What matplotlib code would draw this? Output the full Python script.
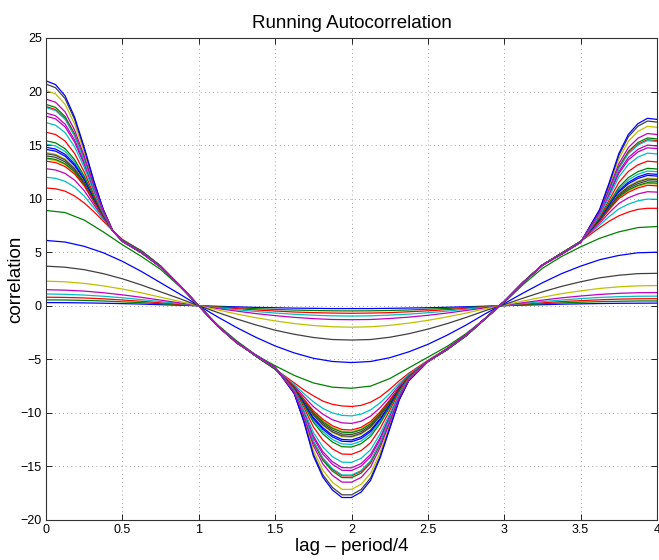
import matplotlib
matplotlib.use("Agg")
from matplotlib import pyplot as plt

# lag axis (in units of period/4); the sharp curves are read on a finer grid
lag_coarse = [0.0, 0.125, 0.25, 0.375, 0.5, 0.625, 0.75, 0.875,
              1.0, 1.125, 1.25, 1.375, 1.5, 1.625, 1.75, 1.875,
              2.0, 2.125, 2.25, 2.375, 2.5, 2.625, 2.75, 2.875,
              3.0, 3.125, 3.25, 3.375, 3.5, 3.625, 3.75, 3.875, 4.0]
lag_fine = [0.0, 0.0625, 0.125, 0.1875, 0.25, 0.3125, 0.375, 0.4375, 0.5,
            0.625, 0.75, 0.875, 1.0, 1.125, 1.25, 1.375, 1.5,
            1.625, 1.6875, 1.75, 1.8125, 1.875, 1.9375, 2.0, 2.0625, 2.125,
            2.1875, 2.25, 2.3125, 2.375,
            2.5, 2.625, 2.75, 2.875, 3.0, 3.125, 3.25, 3.375, 3.5,
            3.625, 3.6875, 3.75, 3.8125, 3.875, 3.9375, 4.0]

# early windows: small, smooth curves (coarse grid)
c00 = [0.3, 0.29, 0.27, 0.24, 0.2, 0.16, 0.1, 0.05, 0, -0.05, -0.1, -0.15, -0.18, -0.22, -0.24, -0.26, -0.26,
       -0.26, -0.24, -0.21, -0.18, -0.14, -0.09, -0.04, 0.01, 0.06, 0.1, 0.15, 0.18, 0.21, 0.23, 0.24, 0.25]
c01 = [0.55, 0.54, 0.5, 0.45, 0.37, 0.29, 0.19, 0.1, 0, -0.09, -0.18, -0.27, -0.34, -0.4, -0.44, -0.47, -0.48,
       -0.47, -0.44, -0.39, -0.32, -0.25, -0.16, -0.07, 0.02, 0.11, 0.19, 0.27, 0.33, 0.39, 0.42, 0.45, 0.45]
c02 = [0.8, 0.78, 0.73, 0.65, 0.54, 0.42, 0.28, 0.14, 0, -0.14, -0.27, -0.39, -0.49, -0.58, -0.64, -0.68, -0.7,
       -0.68, -0.64, -0.56, -0.47, -0.36, -0.24, -0.1, 0.02, 0.16, 0.28, 0.39, 0.48, 0.56, 0.62, 0.65, 0.66]
c03 = [1.1, 1.07, 1.0, 0.89, 0.75, 0.58, 0.39, 0.2, 0, -0.19, -0.37, -0.53, -0.68, -0.79, -0.88, -0.94, -0.96,
       -0.94, -0.87, -0.78, -0.65, -0.5, -0.32, -0.14, 0.03, 0.21, 0.39, 0.54, 0.67, 0.78, 0.85, 0.89, 0.9]
c04 = [1.5, 1.46, 1.37, 1.22, 1.02, 0.79, 0.53, 0.27, 0, -0.26, -0.5, -0.73, -0.92, -1.08, -1.2, -1.28, -1.3,
       -1.28, -1.19, -1.06, -0.89, -0.68, -0.44, -0.19, 0.05, 0.29, 0.53, 0.74, 0.91, 1.06, 1.16, 1.22, 1.23]
c05 = [2.3, 2.24, 2.09, 1.86, 1.56, 1.21, 0.8, 0.41, 0, -0.39, -0.77, -1.12, -1.41, -1.66, -1.84, -1.96, -2.0,
       -1.96, -1.83, -1.62, -1.36, -1.04, -0.68, -0.29, 0.07, 0.45, 0.8, 1.13, 1.39, 1.62, 1.77, 1.86, 1.89]
c06 = [3.7, 3.6, 3.37, 3.0, 2.52, 1.94, 1.3, 0.67, 0, -0.63, -1.24, -1.79, -2.28, -2.66, -2.96, -3.15, -3.2,
       -3.15, -2.94, -2.61, -2.18, -1.67, -1.09, -0.46, 0.11, 0.72, 1.3, 1.81, 2.24, 2.61, 2.85, 3.0, 3.03]
c07 = [6.1, 5.95, 5.55, 4.95, 4.15, 3.2, 2.15, 1.1, 0, -1.05, -2.05, -2.95, -3.75, -4.4, -4.9, -5.2, -5.3,
       -5.2, -4.85, -4.3, -3.6, -2.75, -1.8, -0.75, 0.2, 1.2, 2.15, 3.0, 3.7, 4.3, 4.7, 4.95, 5.0]
c08 = [8.9, 8.7, 8.0, 6.9, 5.7, 4.6, 3.4, 1.8, 0, -1.8, -3.3, -4.6, -5.6, -6.5, -7.2, -7.6, -7.7,
       -7.5, -6.8, -5.8, -4.8, -3.8, -2.6, -1.2, 0.3, 2.0, 3.5, 4.6, 5.5, 6.3, 6.9, 7.3, 7.4]

# later windows: sharp curves (fine grid)
c09 = [11.0, 10.92, 10.7, 10.25, 9.6, 8.8, 7.9, 7.0, 6.2,
       5.1, 3.7, 1.9, 0, -1.9, -3.4, -4.7, -5.9,
       -7.2, -7.85, -8.4, -8.9, -9.2, -9.35, -9.4, -9.3, -9.0, -8.5, -7.8, -7.0, -6.3,
       -5.1, -4.0, -2.7, -1.2, 0.4, 2.2, 3.8, 4.9, 6.0,
       7.3, 7.9, 8.4, 8.75, 9.0, 9.1, 9.1]
c10 = [12.0, 11.9, 11.62, 11.07, 10.24, 9.16, 8.06, 7.0, 6.16,
       5.1, 3.7, 1.9, 0, -1.9, -3.4, -4.7, -5.9,
       -7.36, -8.19, -8.96, -9.58, -10.0, -10.23, -10.28, -10.12, -9.72, -9.06, -8.2, -7.24, -6.42,
       -5.14, -4.04, -2.74, -1.2, 0.4, 2.2, 3.8, 4.9, 6.0,
       7.54, 8.34, 9.04, 9.49, 9.8, 9.96, 9.94]
c11 = [12.8, 12.68, 12.36, 11.73, 10.75, 9.45, 8.19, 7.0, 6.13,
       5.1, 3.7, 1.9, 0, -1.9, -3.4, -4.7, -5.9,
       -7.49, -8.46, -9.41, -10.12, -10.64, -10.93, -10.98, -10.78, -10.3, -9.51, -8.52, -7.43, -6.52,
       -5.17, -4.07, -2.77, -1.2, 0.4, 2.2, 3.8, 4.9, 6.0,
       7.73, 8.69, 9.55, 10.08, 10.44, 10.65, 10.61]
c12 = [13.7, 13.57, 13.18, 12.44, 11.3, 9.75, 8.32, 7.0, 6.1,
       5.1, 3.7, 1.9, 0, -1.9, -3.4, -4.7, -5.9,
       -7.62, -8.76, -9.91, -10.75, -11.36, -11.72, -11.77, -11.51, -10.95, -10.02, -8.87, -7.63, -6.61,
       -5.2, -4.1, -2.8, -1.2, 0.4, 2.2, 3.8, 4.9, 6.0,
       7.93, 9.07, 10.11, 10.75, 11.16, 11.42, 11.37]
c13 = [14.0, 13.86, 13.44, 12.66, 11.44, 9.83, 8.35, 7.0, 6.1,
       5.1, 3.7, 1.9, 0, -1.9, -3.4, -4.7, -5.9,
       -7.64, -8.84, -10.08, -10.96, -11.6, -11.98, -12.02, -11.76, -11.17, -10.19, -8.98, -7.68, -6.63,
       -5.2, -4.1, -2.8, -1.2, 0.4, 2.2, 3.8, 4.9, 6.0,
       7.97, 9.17, 10.28, 10.96, 11.4, 11.67, 11.62]
c14 = [14.6, 14.44, 13.97, 13.08, 11.73, 9.99, 8.4, 7.0, 6.1,
       5.1, 3.7, 1.9, 0, -1.9, -3.4, -4.7, -5.9,
       -7.69, -9.01, -10.42, -11.39, -12.08, -12.48, -12.53, -12.24, -11.61, -10.53, -9.2, -7.78, -6.66,
       -5.2, -4.1, -2.8, -1.2, 0.4, 2.2, 3.8, 4.9, 6.0,
       8.06, 9.37, 10.62, 11.39, 11.88, 12.17, 12.11]
c15 = [13.8, 13.66, 13.26, 12.51, 11.34, 9.78, 8.33, 7.0, 6.1,
       5.1, 3.7, 1.9, 0, -1.9, -3.4, -4.7, -5.9,
       -7.62, -8.78, -9.97, -10.82, -11.44, -11.8, -11.85, -11.59, -11.02, -10.07, -8.91, -7.65, -6.62,
       -5.2, -4.1, -2.8, -1.2, 0.4, 2.2, 3.8, 4.9, 6.0,
       7.94, 9.1, 10.17, 10.82, 11.24, 11.5, 11.45]
c16 = [13.5, 13.37, 13.0, 12.3, 11.2, 9.7, 8.3, 7.0, 6.1,
       5.1, 3.7, 1.9, 0, -1.9, -3.4, -4.7, -5.9,
       -7.6, -8.7, -9.8, -10.6, -11.2, -11.55, -11.6, -11.35, -10.8, -9.9, -8.8, -7.6, -6.6,
       -5.2, -4.1, -2.8, -1.2, 0.4, 2.2, 3.8, 4.9, 6.0,
       7.9, 9.0, 10.0, 10.6, 11.0, 11.25, 11.2]
c17 = [15.1, 14.92, 14.41, 13.43, 11.97, 10.13, 8.45, 7.0, 6.08,
       5.06, 3.68, 1.9, 0, -1.9, -3.42, -4.68, -5.86,
       -7.73, -9.15, -10.69, -11.75, -12.48, -12.9, -12.94, -12.64, -11.97, -10.82, -9.38, -7.86, -6.69,
       -5.2, -4.08, -2.78, -1.2, 0.4, 2.2, 3.8, 4.88, 5.98,
       8.13, 9.53, 10.89, 11.75, 12.28, 12.58, 12.52]
c18 = [17.7, 17.45, 16.7, 15.27, 13.22, 10.82, 8.69, 7.0, 6.05,
       5.0, 3.65, 1.9, 0, -1.9, -3.45, -4.65, -5.8,
       -7.94, -9.88, -12.15, -13.62, -14.56, -15.11, -15.13, -14.74, -13.88, -12.31, -10.31, -8.27, -6.82,
       -5.2, -4.05, -2.75, -1.2, 0.4, 2.2, 3.8, 4.85, 5.95,
       8.52, 10.4, 12.35, 13.62, 14.36, 14.75, 14.67]
c19 = [14.3, 14.15, 13.71, 12.87, 11.59, 9.91, 8.37, 7.0, 6.1,
       5.1, 3.7, 1.9, 0, -1.9, -3.4, -4.7, -5.9,
       -7.66, -8.92, -10.25, -11.18, -11.84, -12.23, -12.27, -12.0, -11.39, -10.36, -9.09, -7.73, -6.64,
       -5.2, -4.1, -2.8, -1.2, 0.4, 2.2, 3.8, 4.9, 6.0,
       8.02, 9.27, 10.45, 11.18, 11.64, 11.92, 11.86]
c20 = [14.2, 14.05, 13.61, 12.79, 11.53, 9.89, 8.37, 7.0, 6.1,
       5.1, 3.7, 1.9, 0, -1.9, -3.4, -4.7, -5.9,
       -7.66, -8.9, -10.19, -11.1, -11.76, -12.14, -12.19, -11.91, -11.31, -10.3, -9.05, -7.71, -6.64,
       -5.2, -4.1, -2.8, -1.2, 0.4, 2.2, 3.8, 4.9, 6.0,
       8.0, 9.23, 10.39, 11.1, 11.56, 11.83, 11.78]
c21 = [14.8, 14.63, 14.14, 13.22, 11.82, 10.05, 8.42, 7.0, 6.08,
       5.06, 3.68, 1.9, 0, -1.9, -3.42, -4.68, -5.86,
       -7.7, -9.06, -10.53, -11.53, -12.24, -12.65, -12.69, -12.4, -11.75, -10.64, -9.27, -7.81, -6.67,
       -5.2, -4.08, -2.78, -1.2, 0.4, 2.2, 3.8, 4.88, 5.98,
       8.09, 9.43, 10.73, 11.53, 12.04, 12.33, 12.27]
c22 = [15.4, 15.21, 14.67, 13.64, 12.11, 10.21, 8.48, 7.0, 6.08,
       5.06, 3.68, 1.9, 0, -1.9, -3.42, -4.68, -5.86,
       -7.75, -9.23, -10.86, -11.97, -12.72, -13.16, -13.19, -12.88, -12.19, -10.99, -9.48, -7.9, -6.7,
       -5.2, -4.08, -2.78, -1.2, 0.4, 2.2, 3.8, 4.88, 5.98,
       8.18, 9.63, 11.06, 11.97, 12.52, 12.83, 12.77]
c23 = [16.2, 15.99, 15.38, 14.21, 12.5, 10.42, 8.55, 7.0, 6.05,
       5.0, 3.65, 1.9, 0, -1.9, -3.45, -4.65, -5.8,
       -7.82, -9.46, -11.31, -12.54, -13.36, -13.84, -13.87, -13.53, -12.78, -11.45, -9.77, -8.03, -6.74,
       -5.2, -4.05, -2.75, -1.2, 0.4, 2.2, 3.8, 4.85, 5.95,
       8.3, 9.9, 11.51, 12.54, 13.16, 13.5, 13.43]
c24 = [17.1, 16.86, 16.17, 14.84, 12.93, 10.66, 8.64, 7.0, 6.05,
       5.0, 3.65, 1.9, 0, -1.9, -3.45, -4.65, -5.8,
       -7.89, -9.71, -11.82, -13.19, -14.08, -14.6, -14.62, -14.25, -13.44, -11.96, -10.1, -8.18, -6.79,
       -5.2, -4.05, -2.75, -1.2, 0.4, 2.2, 3.8, 4.85, 5.95,
       8.43, 10.2, 12.02, 13.19, 13.88, 14.25, 14.18]
c25 = [18.0, 17.74, 16.96, 15.48, 13.36, 10.9, 8.72, 7.0, 6.02,
       4.95, 3.62, 1.9, 0, -1.9, -3.48, -4.62, -5.75,
       -7.96, -9.96, -12.32, -13.84, -14.8, -15.36, -15.38, -14.98, -14.1, -12.48, -10.42, -8.32, -6.84,
       -5.2, -4.02, -2.72, -1.2, 0.4, 2.2, 3.8, 4.82, 5.92,
       8.56, 10.5, 12.52, 13.84, 14.6, 15.0, 14.92]
c26 = [20.1, 19.78, 18.81, 16.96, 14.37, 11.46, 8.92, 7.0, 6.02,
       4.95, 3.62, 1.9, 0, -1.9, -3.48, -4.62, -5.75,
       -8.13, -10.55, -13.5, -15.35, -16.48, -17.14, -17.14, -16.67, -15.64, -13.68, -11.18, -8.66, -6.95,
       -5.2, -4.02, -2.72, -1.2, 0.4, 2.2, 3.8, 4.82, 5.92,
       8.87, 11.2, 13.7, 15.35, 16.28, 16.75, 16.66]
c27 = [20.7, 20.36, 19.34, 17.39, 14.66, 11.62, 8.97, 7.0, 6.02,
       4.95, 3.62, 1.9, 0, -1.9, -3.48, -4.62, -5.75,
       -8.18, -10.72, -13.83, -15.78, -16.96, -17.65, -17.65, -17.16, -16.08, -14.03, -11.39, -8.75, -6.98,
       -5.2, -4.02, -2.72, -1.2, 0.4, 2.2, 3.8, 4.82, 5.92,
       8.96, 11.4, 14.03, 15.78, 16.76, 17.25, 17.15]
c28 = [21.0, 20.65, 19.6, 17.6, 14.8, 11.7, 9.0, 7.0, 6.0,
       4.95, 3.62, 1.9, 0, -1.9, -3.48, -4.62, -5.75,
       -8.2, -10.8, -14.0, -16.0, -17.2, -17.9, -17.9, -17.4, -16.3, -14.2, -11.5, -8.8, -7.0,
       -5.2, -4.02, -2.72, -1.2, 0.4, 2.2, 3.8, 4.82, 5.92,
       9.0, 11.5, 14.2, 16.0, 17.0, 17.5, 17.4]
c29 = [18.8, 18.52, 17.67, 16.05, 13.75, 11.11, 8.79, 7.0, 6.02,
       4.95, 3.62, 1.9, 0, -1.9, -3.48, -4.62, -5.75,
       -8.02, -10.18, -12.77, -14.42, -15.44, -16.04, -16.05, -15.63, -14.69, -12.94, -10.71, -8.45, -6.88,
       -5.2, -4.02, -2.72, -1.2, 0.4, 2.2, 3.8, 4.82, 5.92,
       8.68, 10.77, 12.97, 14.42, 15.24, 15.67, 15.58]
c30 = [18.6, 18.32, 17.49, 15.9, 13.65, 11.06, 8.78, 7.0, 6.02,
       4.95, 3.62, 1.9, 0, -1.9, -3.48, -4.62, -5.75,
       -8.01, -10.13, -12.66, -14.27, -15.28, -15.87, -15.88, -15.46, -14.54, -12.82, -10.64, -8.42, -6.87,
       -5.2, -4.02, -2.72, -1.2, 0.4, 2.2, 3.8, 4.82, 5.92,
       8.65, 10.7, 12.86, 14.27, 15.08, 15.5, 15.42]
c31 = [18.5, 18.23, 17.4, 15.84, 13.6, 11.03, 8.77, 7.0, 6.02,
       4.95, 3.62, 1.9, 0, -1.9, -3.48, -4.62, -5.75,
       -8.0, -10.1, -12.6, -14.2, -15.2, -15.79, -15.8, -15.39, -14.47, -12.77, -10.6, -8.4, -6.87,
       -5.2, -4.02, -2.72, -1.2, 0.4, 2.2, 3.8, 4.82, 5.92,
       8.63, 10.67, 12.8, 14.2, 15.0, 15.42, 15.33]
c32 = [19.3, 19.0, 18.1, 16.4, 13.98, 11.25, 8.84, 7.0, 6.02,
       4.95, 3.62, 1.9, 0, -1.9, -3.48, -4.62, -5.75,
       -8.06, -10.32, -13.05, -14.77, -15.84, -16.46, -16.47, -16.03, -15.05, -13.22, -10.89, -8.53, -6.91,
       -5.2, -4.02, -2.72, -1.2, 0.4, 2.2, 3.8, 4.82, 5.92,
       8.75, 10.93, 13.25, 14.77, 15.64, 16.08, 15.99]

coarse_curves = [c00, c01, c02, c03, c04, c05, c06, c07, c08]
fine_curves = [c09, c10, c11, c12, c13, c14, c15, c16, c17, c18, c19, c20,
               c21, c22, c23, c24, c25, c26, c27, c28, c29, c30, c31, c32]

# MATLAB default colour order: b g r c m y k
line_colors = ["#0000ff", "#008000", "#ff0000", "#00bfbf", "#bf00bf", "#bfbf00", "#404040"]

x_ticks = [0, 0.5, 1, 1.5, 2, 2.5, 3, 3.5, 4]
x_tick_labels = ["0", "0.5", "1", "1.5", "2", "2.5", "3", "3.5", "4"]
y_ticks = [-20, -15, -10, -5, 0, 5, 10, 15, 20, 25]
y_tick_labels = ["\u221220", "\u221215", "\u221210", "\u22125", "0", "5", "10", "15", "20", "25"]

plt.rcParams["font.family"] = ["Liberation Sans", "DejaVu Sans"]

fig = plt.figure(figsize=(6.59, 5.6), dpi=100)
ax = fig.add_axes([46 / 659, 40 / 560, 611 / 659, 482 / 560])

n = 0
for curve in coarse_curves:
    ax.plot(lag_coarse, curve, color=line_colors[n % 7], linewidth=0.9)
    n += 1
for curve in fine_curves:
    ax.plot(lag_fine, curve, color=line_colors[n % 7], linewidth=0.9)
    n += 1

ax.set_xlim(0, 4)
ax.set_ylim(-20, 25)
ax.set_xticks(x_ticks)
ax.set_xticklabels(x_tick_labels)
ax.set_yticks(y_ticks)
ax.set_yticklabels(y_tick_labels)
ax.tick_params(direction="in", length=4, width=0.6, top=True, right=True,
               labelsize=9, pad=3)
ax.grid(True, linestyle=(0, (1, 4)), color="#888888", linewidth=0.6)
for spine in ax.spines.values():
    spine.set_linewidth(0.8)
    spine.set_color("#333333")

ax.set_title("Running Autocorrelation", fontsize=13.5, pad=7)
ax.set_xlabel("lag \u2013 period/4", fontsize=13.5, labelpad=1)
ax.set_ylabel("correlation", fontsize=13.5)
ax.yaxis.set_label_coords(-0.036, 0.5)

fig.savefig("out.png", dpi=100)
